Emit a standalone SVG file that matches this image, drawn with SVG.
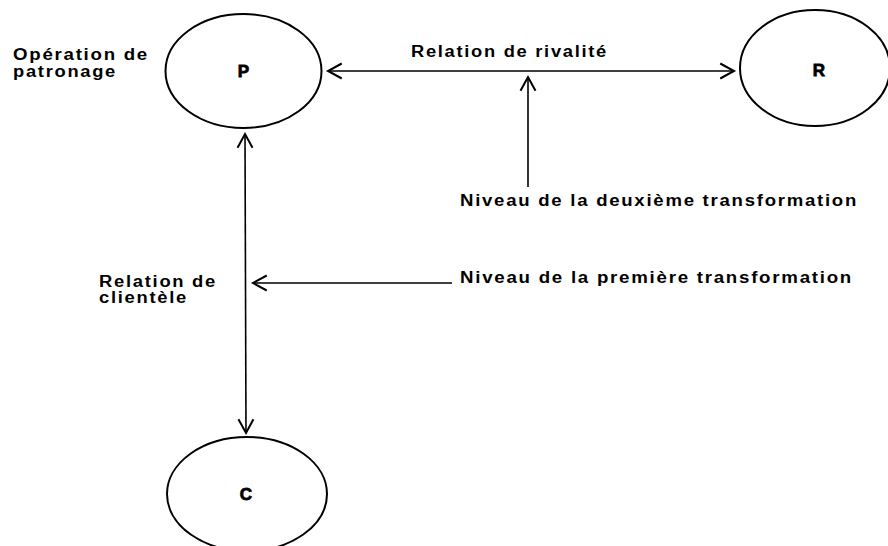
<svg xmlns="http://www.w3.org/2000/svg" width="888" height="546" viewBox="0 0 888 546">
<style>
  .node { fill: none; stroke: #000; stroke-width: 2; }
  .lbl { font-family: "Liberation Sans", Arial, sans-serif; font-weight: bold; font-size: 16px; letter-spacing: 1.5px; fill: #000; }
  .letter { font-family: "Liberation Sans", Arial, sans-serif; font-weight: bold; font-size: 17px; fill: #000; stroke: #000; stroke-width: 0.8; text-anchor: middle; }
  .edge { fill: none; stroke: #000; stroke-width: 1.6; }
</style>
<defs>
  <marker id="arr" markerUnits="userSpaceOnUse" markerWidth="20" markerHeight="20" viewBox="-12 -8 14 16" refX="0" refY="0" orient="auto-start-reverse">
    <path d="M-11,-6 L0,0 L-11,6" fill="none" stroke="#000" stroke-width="1.6"/>
  </marker>
</defs>
<rect width="888" height="546" fill="#fff"/>
<g id="node-P">
  <ellipse class="node" cx="243.5" cy="71" rx="78" ry="57"/>
  <text class="letter" x="243.5" y="77">P</text>
</g>
<g id="node-R">
  <ellipse class="node" cx="815" cy="68" rx="75" ry="58"/>
  <text class="letter" x="819" y="76">R</text>
</g>
<g id="node-C">
  <ellipse class="node" cx="247" cy="494" rx="80" ry="57"/>
  <text class="letter" x="246" y="500">C</text>
</g>
<g id="connectors">
  <line class="edge" x1="328" y1="71" x2="734" y2="71" marker-start="url(#arr)" marker-end="url(#arr)"/>
  <line class="edge" x1="528" y1="187" x2="528" y2="77" marker-end="url(#arr)"/>
  <line class="edge" x1="245" y1="134" x2="246" y2="433" marker-start="url(#arr)" marker-end="url(#arr)"/>
  <line class="edge" x1="452" y1="283" x2="253" y2="283" marker-end="url(#arr)"/>
</g>
<g id="labels">
  <text class="lbl" x="13" y="60" textLength="136" lengthAdjust="spacingAndGlyphs">Opération de</text>
  <text class="lbl" x="13" y="77" textLength="104" lengthAdjust="spacingAndGlyphs">patronage</text>
  <text class="lbl" x="411" y="57" textLength="197" lengthAdjust="spacingAndGlyphs">Relation de rivalité</text>
  <text class="lbl" x="460" y="206" textLength="398" lengthAdjust="spacingAndGlyphs">Niveau de la deuxième transformation</text>
  <text class="lbl" x="460" y="283" textLength="393" lengthAdjust="spacingAndGlyphs">Niveau de la première transformation</text>
  <text class="lbl" x="99" y="287" textLength="118" lengthAdjust="spacingAndGlyphs">Relation de</text>
  <text class="lbl" x="99" y="303" textLength="89" lengthAdjust="spacingAndGlyphs">clientèle</text>
</g>
</svg>
